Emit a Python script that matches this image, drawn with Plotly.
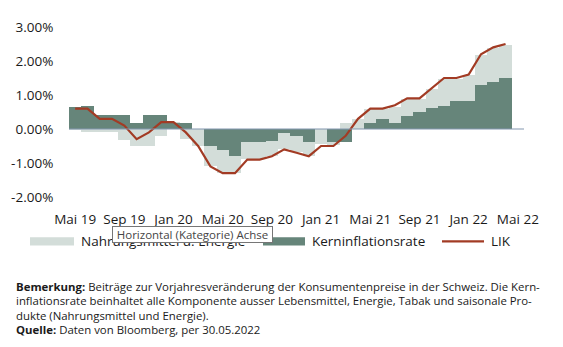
import plotly.graph_objects as go

# Monthly categories (May 2019 - May 2022), German month names
months = [
    "Mai 19", "Jun 19", "Jul 19", "Aug 19", "Sep 19", "Okt 19", "Nov 19", "Dez 19",
    "Jan 20", "Feb 20", "Mär 20", "Apr 20", "Mai 20", "Jun 20", "Jul 20", "Aug 20",
    "Sep 20", "Okt 20", "Nov 20", "Dez 20", "Jan 21", "Feb 21", "Mär 21", "Apr 21",
    "Mai 21", "Jun 21", "Jul 21", "Aug 21", "Sep 21", "Okt 21", "Nov 21", "Dez 21",
    "Jan 22", "Feb 22", "Mär 22", "Apr 22", "Mai 22",
]
tick_labels = ["Mai 19", "Sep 19", "Jan 20", "Mai 20", "Sep 20", "Jan 21",
               "Mai 21", "Sep 21", "Jan 22", "Mai 22"]

# Contributions to year-on-year CPI change, in percentage points (May 2019 - Apr 2022)
kerninflation = [
    0.64, 0.69, 0.40, 0.40, 0.40, 0.18, 0.40, 0.40,
    0.18, 0.18, 0.00, -0.49, -0.61, -0.80, -0.39, -0.39,
    -0.35, -0.12, -0.20, -0.39, 0.00, -0.39, -0.39, 0.00,
    0.18, 0.29, 0.18, 0.39, 0.49, 0.61, 0.69, 0.81,
    0.81, 1.30, 1.39, 1.49,
]
nahrung_energie = [
    -0.02, -0.10, -0.10, -0.10, -0.31, -0.49, -0.49, -0.20,
    0.02, -0.30, -0.49, -0.60, -0.67, -0.49, -0.50, -0.50,
    -0.43, -0.48, -0.47, -0.41, -0.45, -0.08, 0.18, 0.29,
    0.41, 0.30, 0.48, 0.49, 0.39, 0.57, 0.78, 0.66,
    0.79, 0.89, 0.99, 0.99,
]
# Headline CPI (LIK), year-on-year in %
lik = [
    0.6, 0.6, 0.3, 0.3, 0.1, -0.3, -0.1, 0.2,
    0.2, -0.1, -0.5, -1.1, -1.3, -1.3, -0.9, -0.9,
    -0.8, -0.6, -0.7, -0.8, -0.5, -0.5, -0.2, 0.3,
    0.6, 0.6, 0.7, 0.9, 0.9, 1.2, 1.5, 1.5,
    1.6, 2.2, 2.4, 2.5,
]
y_ticks = [3, 2, 1, 0, -1, -2]
y_tick_text = ["3.00%", "2.00%", "1.00%", "0.00%", "-1.00%", "-2.00%"]

C_LIGHT = "#D3DDD9"
C_DARK = "#66857A"
C_LINE = "#A23B24"
C_ZERO = "#8497B0"
C_TEXT = "#1a1a1a"
FONT = "Open Sans"

W, H = 563, 347
ML, MR, MT, MB = 69, 39, 27, 150.3


def px_x(x):
    return (x - ML) / (W - ML - MR)


def px_y(y):
    return (H - MB - y) / (H - MT - MB)


n = len(lik)
fig = go.Figure()
fig.add_trace(go.Bar(x=months[:n], y=kerninflation, name="Kerninflationsrate",
                     marker=dict(color=C_DARK, line=dict(width=0)), showlegend=False))
fig.add_trace(go.Bar(x=months[:n], y=nahrung_energie, name="Nahrungsmittel u. Energie",
                     marker=dict(color=C_LIGHT, line=dict(width=0)), showlegend=False))
fig.add_trace(go.Scatter(x=months[:n], y=lik, name="LIK", mode="lines",
                         line=dict(color=C_LINE, width=2.2), showlegend=False))

# zero line drawn over the bars
fig.add_shape(type="line", xref="paper", yref="y", x0=0, x1=1, y0=0, y1=0,
              line=dict(color=C_ZERO, width=1.2), layer="above")

# legend: swatches and labels
for x0, x1, col in [(30, 74, C_LIGHT), (263, 305, C_DARK)]:
    fig.add_shape(type="rect", xref="paper", yref="paper",
                  x0=px_x(x0), x1=px_x(x1), y0=px_y(245), y1=px_y(237),
                  fillcolor=col, line=dict(width=0))
fig.add_shape(type="line", xref="paper", yref="paper",
              x0=px_x(442), x1=px_x(484), y0=px_y(241), y1=px_y(241),
              line=dict(color=C_LINE, width=2.2))

legend_text = [(79, "Nahrungsmittel u. Energie"), (310, "Kerninflationsrate"), (489, "LIK")]
for x0, t in legend_text:
    fig.add_annotation(text=t, xref="paper", yref="paper", x=px_x(x0), y=px_y(241),
                       xanchor="left", yanchor="middle", showarrow=False,
                       font=dict(family=FONT, size=13.5, color=C_TEXT))

# hover tip box lying over the legend (added last so it sits on top)
fig.add_annotation(text="Horizontal (Kategorie) Achse", xref="paper", yref="paper",
                   x=px_x(192.5), y=px_y(234.5), xanchor="center", yanchor="middle",
                   width=159, height=15, align="center", valign="middle",
                   showarrow=False, bgcolor="white", bordercolor="#767676",
                   borderwidth=1, borderpad=0,
                   font=dict(family=FONT, size=11.5, color="#454545"))

notes = [
    (286, "<b>Bemerkung:</b> Beiträge zur Vorjahresveränderung der Konsumentenpreise in der Schweiz. Die Kern-"),
    (300.5, "inflationsrate beinhaltet alle Komponente ausser Lebensmittel, Energie, Tabak und saisonale Pro-"),
    (315, "dukte (Nahrungsmittel und Energie)."),
    (329, "<b>Quelle:</b> Daten von Bloomberg, per 30.05.2022"),
]
for yy, t in notes:
    fig.add_annotation(text=t, xref="paper", yref="paper", x=px_x(14), y=px_y(yy),
                       xanchor="left", yanchor="middle", showarrow=False,
                       font=dict(family=FONT, size=11.4, color=C_TEXT))

fig.update_layout(
    width=W, height=H,
    margin=dict(l=ML, r=MR, t=MT, b=MB, pad=0),
    paper_bgcolor="white", plot_bgcolor="white",
    barmode="relative", bargap=0,
    font=dict(family=FONT, size=13.5, color=C_TEXT),
    xaxis=dict(type="category", categoryorder="array", categoryarray=months,
               range=[-0.5, len(months) - 0.5],
               tickvals=tick_labels, ticktext=tick_labels, tickangle=0,
               ticks="outside", ticklen=10, tickcolor="rgba(0,0,0,0)",
               showgrid=False, showline=False, zeroline=False,
               tickfont=dict(family=FONT, size=13.5, color=C_TEXT)),
    yaxis=dict(range=[-2, 3], tickvals=y_ticks, ticktext=y_tick_text,
               ticks="outside", ticklen=12, tickcolor="rgba(0,0,0,0)",
               showgrid=False, showline=False, zeroline=False,
               tickfont=dict(family=FONT, size=13.5, color=C_TEXT)),
    showlegend=False,
)

fig.write_html("out.html")
